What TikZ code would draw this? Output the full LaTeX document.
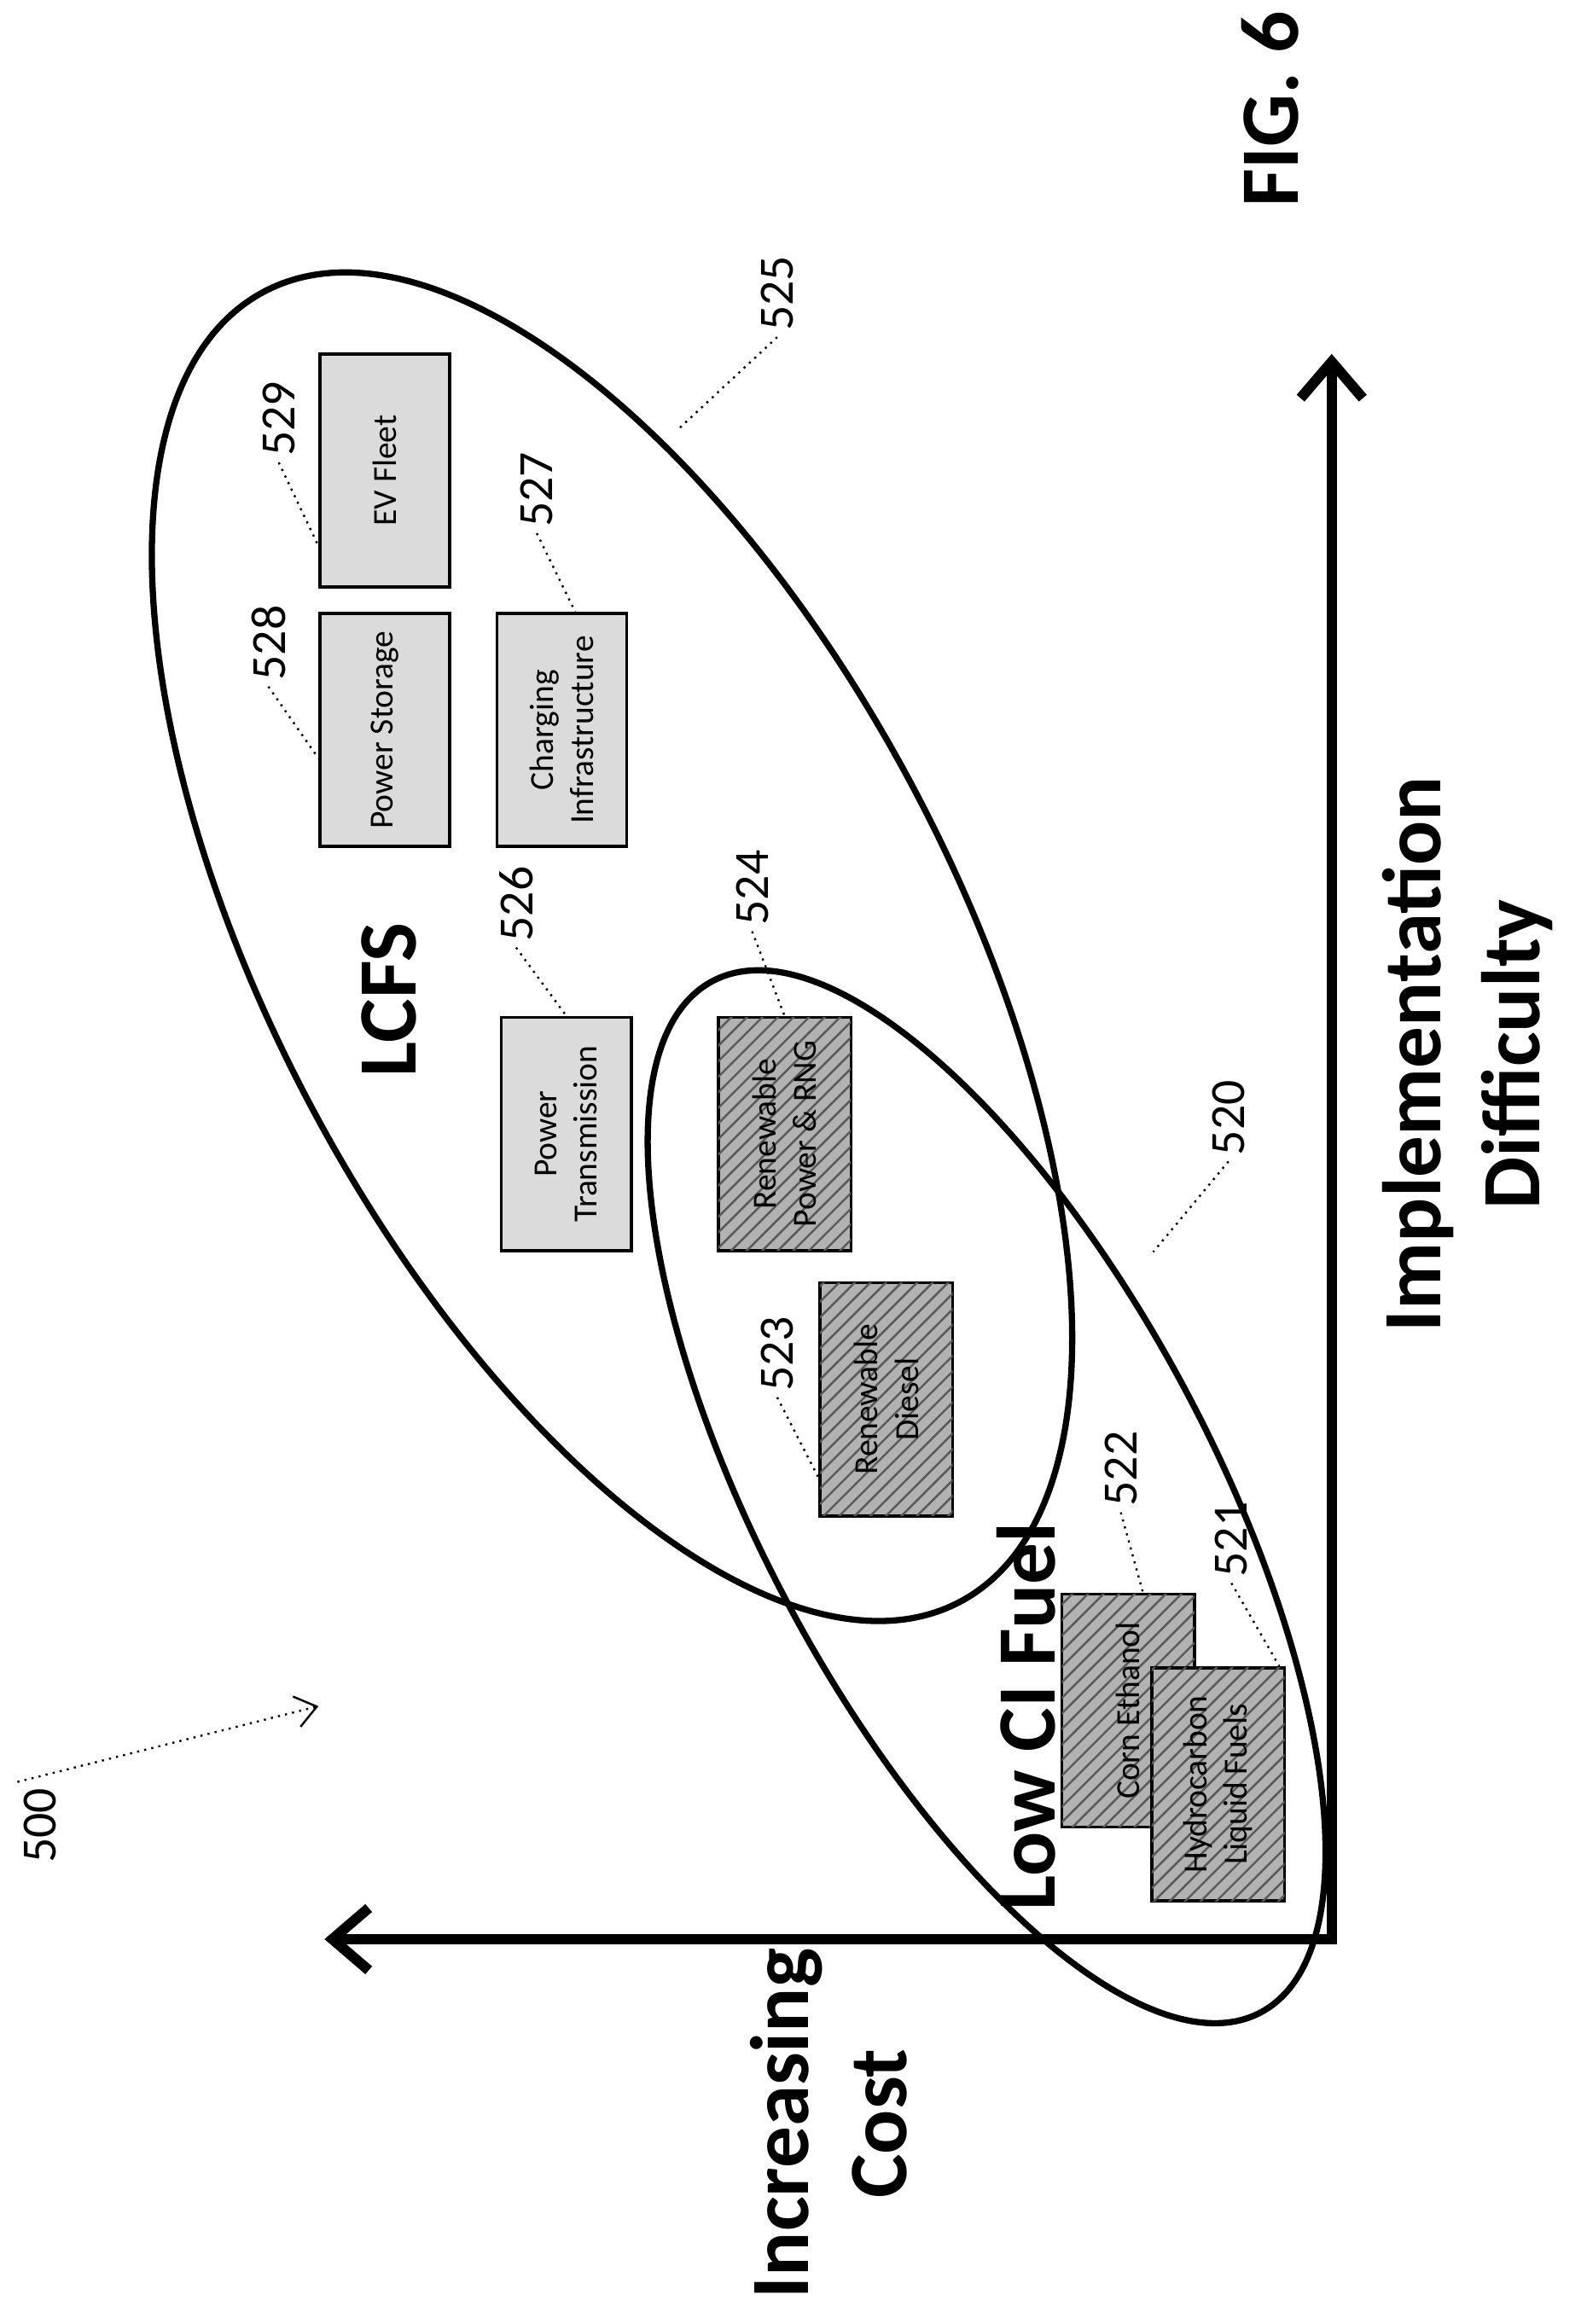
\documentclass[tikz,border=0pt]{standalone}
\usepackage{fontspec}
\setmainfont{Carlito}
\usetikzlibrary{patterns,calc,arrows.meta}

\tikzset{
	lightbox/.style={draw, semithick, rotate=90, fill=black!14, align=center,
		font=\fontsize{6.5}{7.8}\selectfont, minimum width=1.58cm, minimum height=0.88cm, inner sep=1pt},
	darkbox/.style={lightbox, fill=black!30, minimum height=0.90cm,
		postaction={pattern=north east lines, pattern color=black!65}},
	num/.style={rotate=90, font=\fontsize{9.5}{10}\selectfont, inner sep=1pt},
	lead/.style={densely dotted, thin},
	big/.style={rotate=90, font=\fontsize{16}{19}\selectfont\bfseries, align=center},
	loop/.style={line width=1.2pt},
	axis/.style={line width=2pt}
}

\begin{document}
\begin{tikzpicture}[x=0.01cm, y=-0.01cm]
	\useasboundingbox (0,0) rectangle (1076,1576);

	% groups
	\draw[loop, rotate around={-62:(415,642)}] (415,642) ellipse (503 and 231);
	\draw[loop, rotate around={-62:(669,1015)}] (669,1015) ellipse (396 and 153);

	% axes
	\coordinate (origin) at (903,1315);
	\coordinate (ytip) at (903,240);
	\coordinate (xtip) at (220,1315);
	\draw[axis, {Straight Barb[length=7pt,width=12pt]}-{Straight Barb[length=7pt,width=12pt]}]
		(xtip) -- (origin) -- (ytip);

	% boxes
	\node[lightbox] (ev) at (261,319) {EV Fleet};
	\node[lightbox] (storage) at (261,495) {Power Storage};
	\node[lightbox] (charging) at (381,495) {Charging\\Infrastructure};
	\node[lightbox] (transmission) at (384,769) {Power\\Transmission};
	\node[darkbox] (rpower) at (532,769) {Renewable\\Power \& RNG};
	\node[darkbox] (rdiesel) at (601,949) {Renewable\\Diesel};
	\node[darkbox] (ethanol) at (765,1160) {Corn Ethanol};
	\node[darkbox] (hydro) at (826,1210) {Hydrocarbon\\Liquid Fuels};

	% titles
	\node[big] (lcfs) at (264,678) {LCFS};
	\node[big] (lowci) at (696,1164) {Low CI Fuel};
	\node[big] (cost) at (562,1440) {Increasing\\Cost};
	\node[big] (difficulty) at (995,715) {Implementation\\Difficulty};
	\node[big] (fig) at (861,74) {FIG. 6};

	% reference numerals
	\node[num] (n529) at (189,284) {529};
	\node[num] (n528) at (182,436) {528};
	\node[num] (n527) at (364,332) {527};
	\node[num] (n526) at (350,613) {526};
	\node[num] (n524) at (510,602) {524};
	\node[num] (n523) at (527,918) {523};
	\node[num] (n522) at (760,996) {522};
	\node[num] (n521) at (835,1044) {521};
	\node[num] (n525) at (527,199) {525};
	\node[num] (n520) at (833,758) {520};
	\node[num] (n500) at (27,1238) {500};

	\coordinate (on525) at (460,291);
	\coordinate (on520) at (782,849);
	\coordinate (fig500) at (216,1157);

	\draw[lead] (n529.west) -- ($(ev.north west)!0.18!(ev.north east)$);
	\draw[lead] (n528.west) -- ($(storage.north west)!0.38!(storage.north east)$);
	\draw[lead] (n527.west) -- ($(charging.south east)!0.4!(charging.north east)$);
	\draw[lead] (n526.west) -- (transmission.east);
	\draw[lead] (n524.west) -- (rpower.east);
	\draw[lead] (n523.west) -- ($(rdiesel.north west)!0.17!(rdiesel.north east)$);
	\draw[lead] (n522.west) -- ($(ethanol.east)+(10,0)$);
	\draw[lead] (n521.west) -- ($(hydro.east)!0.9!(hydro.south east)$);
	\draw[lead] (n525.west) -- (on525);
	\draw[lead] (n520.west) -- (on520);
	\draw[lead, -{Straight Barb[length=4pt,width=6pt]}] (n500.north east) -- (fig500);
\end{tikzpicture}
\end{document}
